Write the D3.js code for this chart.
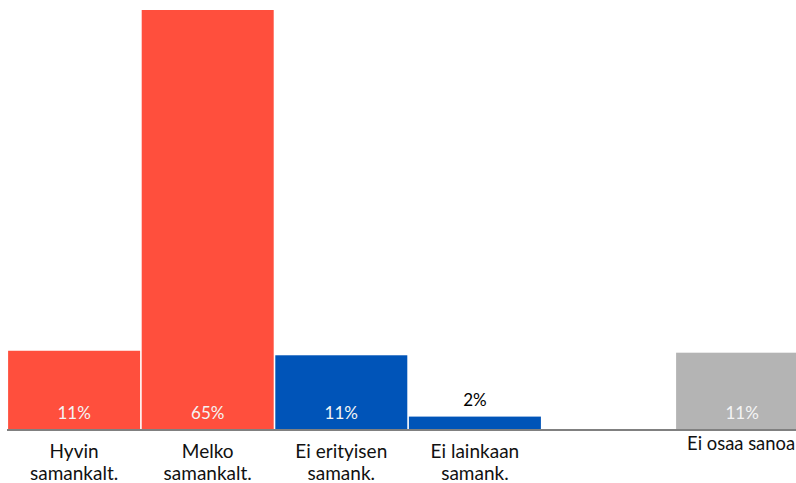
<!DOCTYPE html>
<html><head><meta charset="utf-8">
<script src="https://cdn.jsdelivr.net/npm/d3@7"></script>
<style>html,body{margin:0;padding:0;background:#fff;overflow:hidden}</style>
</head><body><svg id="c" width="796" height="483"></svg>
<script>
const categories = [["Hyvin","samankalt."],["Melko","samankalt."],["Ei erityisen","samank."],["Ei lainkaan","samank."],[""],["Ei osaa sanoa"]];
const values = [12.2, 65, 11.5, 2.0, null, 11.9];
const valueLabels = ["11%","65%","11%","2%","","11%"];
const colors = ["#FF4F3D","#FF4F3D","#0054B8","#0054B8","#ffffff","#B4B4B4"];

const svg = d3.select("#c");
const font = "Lato, 'Open Sans', sans-serif";
const x = d3.scaleBand().domain(d3.range(categories.length)).range([7.3, 7.3 + 133.6*6]).paddingInner(0.012).paddingOuter(0.006);
const y = d3.scaleLinear().domain([0, 65]).range([429.5, 10]);

const idx = d3.range(categories.length).filter(i => values[i] != null);
svg.selectAll("rect.bar").data(idx).join("rect").attr("class","bar")
  .attr("x", i => x(i)).attr("width", x.bandwidth())
  .attr("y", i => y(values[i])).attr("height", i => y(0) - y(values[i]))
  .attr("fill", i => colors[i]);

svg.selectAll("text.val").data(idx).join("text").attr("class","val")
  .attr("x", i => x(i) + x.bandwidth()/2)
  .attr("y", i => (y(0) - y(values[i]) > 25) ? y(0) - 10.5 : y(values[i]) - 10.7)
  .attr("text-anchor","middle").attr("font-family", font).attr("font-size", 17)
  .attr("fill", i => (y(0) - y(values[i]) > 25) ? "#f4f4f4" : "#000")
  .text(i => valueLabels[i]);

svg.append("line").attr("x1", 7).attr("x2", 796).attr("y1", y(0)+0.5).attr("y2", y(0)+0.5)
  .attr("stroke","#808080").attr("stroke-width",2);

const cat = svg.selectAll("text.cat").data(d3.range(categories.length)).join("text").attr("class","cat")
  .attr("text-anchor","middle").attr("font-family", font).attr("fill","#111");
cat.each(function(i){
  const t = d3.select(this);
  const lines = categories[i];
  const y0 = lines.length > 1 ? 457.7 : 450;
  t.attr("font-size", lines.length > 1 ? 19 : 18.4);
  lines.forEach((line, k) => {
    t.append("tspan").attr("x", x(i) + x.bandwidth()/2 - (lines.length > 1 ? 0 : 1)).attr("y", y0 + k*22.5).text(line);
  });
});
</script></body></html>
